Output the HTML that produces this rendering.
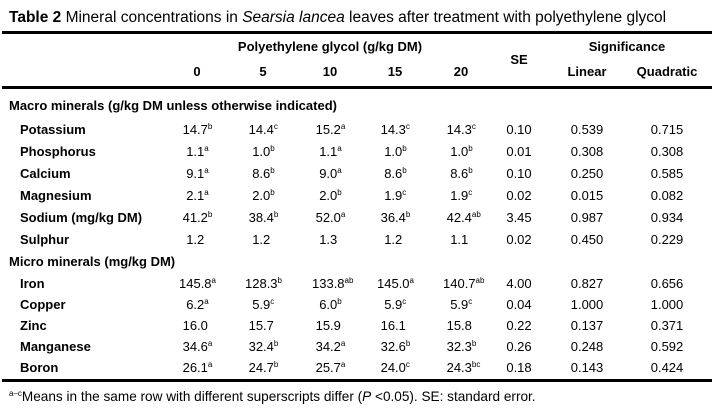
<!DOCTYPE html>
<html><head><meta charset="utf-8"><style>
body{margin:0;width:716px;height:412px;background:#fff;font-family:"Liberation Sans",Arial,sans-serif;color:#000;position:relative;overflow:hidden}
.a{position:absolute;white-space:nowrap;font-size:13px;line-height:14px}
.c{transform:translateX(-50%)}
.b{font-weight:bold}
sup{font-size:8px;line-height:0;vertical-align:5px}
.rule{position:absolute;left:2px;width:710px;height:3px;background:#000}
</style></head><body>
<div class="a" style="left:9px;top:9px;font-size:15.5px;line-height:17px"><b>Table 2</b> Mineral concentrations in <i>Searsia lancea</i> leaves after treatment with polyethylene glycol</div>
<div class="rule" style="top:31px"></div>
<div class="a b c" style="left:330px;top:40px">Polyethylene glycol (g/kg DM)</div>
<div class="a b c" style="left:627px;top:40px">Significance</div>
<div class="a b c" style="left:519px;top:53px">SE</div>
<div id="hdr"></div>
<div class="rule" style="top:86px"></div>
<div id="body"></div>
<div class="rule" style="top:379px"></div>
<div class="a" style="left:9px;top:390px;font-size:13.6px"><sup>a–c</sup>Means in the same row with different superscripts differ (<i>P</i> &lt;0.05). SE: standard error.</div>
<script>
const colX=[197,263,330,395,461,519,587,667];
const headers=["0","5","10","15","20","","Linear","Quadratic"];
const rows=[
["g","Macro minerals (g/kg DM unless otherwise indicated)",106],
["r","Potassium",130,["14.7|b","14.4|c","15.2|a","14.3|c","14.3|c","0.10","0.539","0.715"]],
["r","Phosphorus",152,["1.1|a","1.0|b","1.1|a","1.0|b","1.0|b","0.01","0.308","0.308"]],
["r","Calcium",174,["9.1|a","8.6|b","9.0|a","8.6|b","8.6|b","0.10","0.250","0.585"]],
["r","Magnesium",196,["2.1|a","2.0|b","2.0|b","1.9|c","1.9|c","0.02","0.015","0.082"]],
["r","Sodium (mg/kg DM)",218,["41.2|b","38.4|b","52.0|a","36.4|b","42.4|ab","3.45","0.987","0.934"]],
["r","Sulphur",240,["1.2","1.2","1.3","1.2","1.1","0.02","0.450","0.229"]],
["g","Micro minerals (mg/kg DM)",262],
["r","Iron",284,["145.8|a","128.3|b","133.8|ab","145.0|a","140.7|ab","4.00","0.827","0.656"]],
["r","Copper",305,["6.2|a","5.9|c","6.0|b","5.9|c","5.9|c","0.04","1.000","1.000"]],
["r","Zinc",326,["16.0","15.7","15.9","16.1","15.8","0.22","0.137","0.371"]],
["r","Manganese",347,["34.6|a","32.4|b","34.2|a","32.6|b","32.3|b","0.26","0.248","0.592"]],
["r","Boron",368,["26.1|a","24.7|b","25.7|a","24.0|c","24.3|bc","0.18","0.143","0.424"]]
];
const hdr=document.getElementById('hdr');
headers.forEach((h,i)=>{if(!h)return;const d=document.createElement('div');d.className='a b c';d.style.left=colX[i]+'px';d.style.top='65px';d.textContent=h;


hdr.appendChild(d);});
const body=document.getElementById('body');
rows.forEach(r=>{
const y=r[2]-7;
const l=document.createElement('div');l.className='a b';l.style.top=y+'px';l.style.left=(r[0]=='g'?9:20)+'px';l.textContent=r[1];


body.appendChild(l);
if(r[0]=='r'){r[3].forEach((v,i)=>{const p=v.split('|');const d=document.createElement('div');d.className='a';d.style.top=y+'px';
if(i>=5){d.classList.add('c');d.style.left=colX[i]+'px';}
else{d.style.left=(colX[i]-(p[0].length*7.2)/2)+'px';}
d.innerHTML=p[0]+(p[1]?'<sup>'+p[1]+'</sup>':'');


body.appendChild(d);});}
});
</script>
</body></html>
